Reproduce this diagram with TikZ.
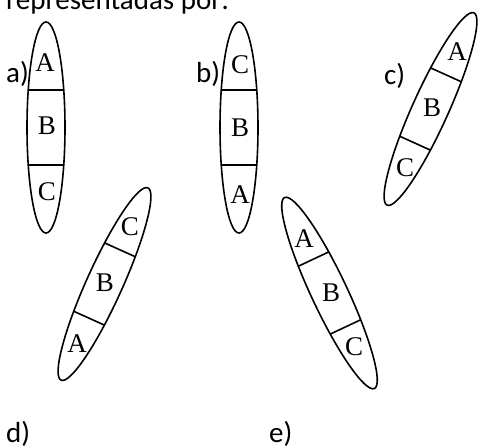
\documentclass[tikz,border=0pt]{standalone}
\usepackage{fontspec}
\newfontfamily\carl{Carlito}
\newfontfamily\tnr{Liberation Serif}
\begin{document}
\begin{tikzpicture}[x=1pt,y=1pt,
  lbl/.style={inner sep=0pt,font=\tnr\fontsize{27}{32}\selectfont},
  tag/.style={inner sep=0pt,anchor=base west,font=\carl\fontsize{29}{35}\selectfont},
  ell/.style={line width=1.6pt}]
\useasboundingbox (0,0) rectangle (478,445);
\newcommand{\capsule}[4]{%
  \begin{scope}[shift={(#1,#2)},rotate=#3]
    \draw[ell] (0,0) ellipse [x radius=105.5, y radius=#4];
    \draw[ell] (37.5,-0.935*#4) -- (37.5,0.935*#4);
    \draw[ell] (-37.5,-0.935*#4) -- (-37.5,0.935*#4);
  \end{scope}}
% title
\node[tag] (title) at (6,435) {representadas por:};
% a
\capsule{46}{317.5}{90}{19}
\node[tag] (ta) at (6,362) {a)};
\node[lbl] (aA) at (45,382) {A};
\node[lbl] (aB) at (47,319) {B};
\node[lbl] (aC) at (47,253) {C};
% b
\capsule{239}{317.5}{90}{19}
\node[tag] (tb) at (196,362) {b)};
\node[lbl] (bC) at (240,380) {C};
\node[lbl] (bB) at (240,317) {B};
\node[lbl] (bA) at (240,250) {A};
% c
\capsule{430.5}{336}{65.7}{18}
\node[tag] (tc) at (384,360) {c)};
\node[lbl] (cA) at (457,393) {A};
\node[lbl] (cB) at (432,337) {B};
\node[lbl] (cC) at (405,277) {C};
% d
\capsule{104.5}{161}{65.7}{18}
\node[tag] (td) at (6,3) {d)};
\node[lbl] (dC) at (130,218) {C};
\node[lbl] (dB) at (105,162) {B};
\node[lbl] (dA) at (77,101) {A};
% e
\capsule{329.5}{152}{-64.8}{18}
\node[tag] (te) at (269,3) {e)};
\node[lbl] (eA) at (304,206) {A};
\node[lbl] (eB) at (331,152) {B};
\node[lbl] (eC) at (354,98) {C};
\end{tikzpicture}
\end{document}
